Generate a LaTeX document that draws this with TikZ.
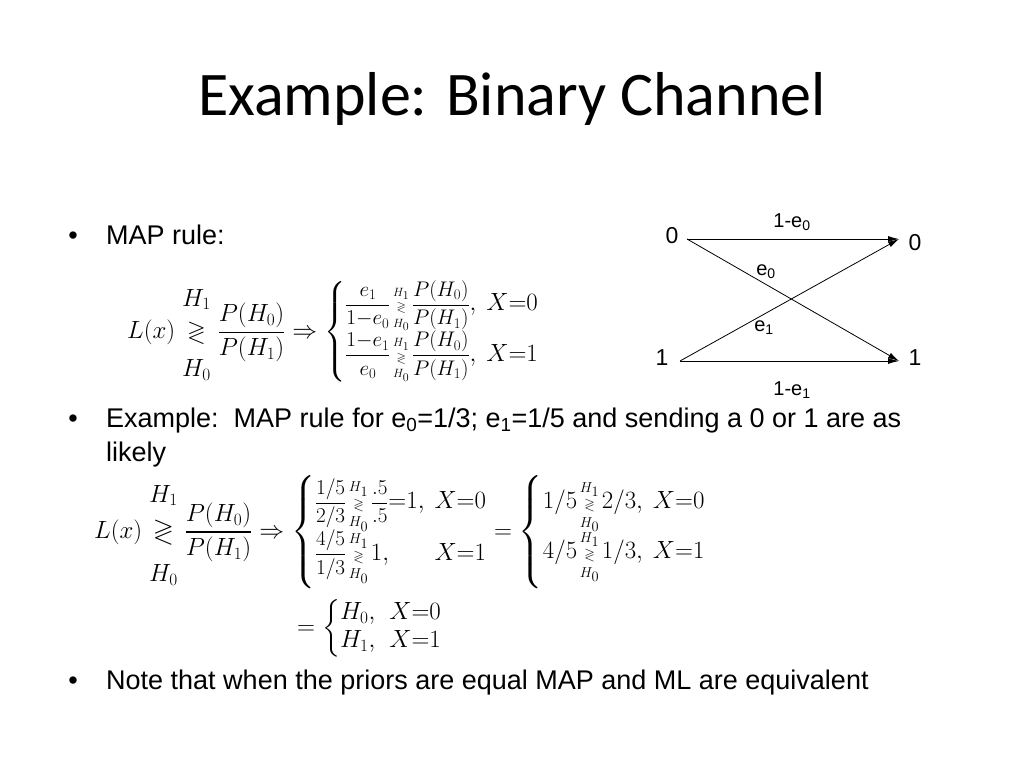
\documentclass[tikz,border=0pt]{standalone}
\usepackage{amsmath}
\usepackage{amssymb}
\usepackage{graphicx}
\usepackage{fontspec}
\setmainfont{Liberation Sans}
\newfontfamily\titlefont{Carlito}
\usetikzlibrary{arrows.meta}
\newcommand{\mapdecide}{\mathrel{\mathop{\gtrless}\limits^{\textstyle H_1\rule[-0.55em]{0pt}{0pt}}_{\textstyle\rule{0pt}{1.25em}H_0}}}
\newcommand{\mapsmall}{\mkern2mu{\mathop{\scriptscriptstyle\gtrless}\limits^{\scriptscriptstyle H_1}_{\scriptscriptstyle H_0}}\mkern2mu}
\newcommand{\casefrac}[2]{\scalebox{0.85}{$\displaystyle\frac{#1}{#2}$}}
\tikzset{
        title/.style={anchor=base, inner sep=0pt, font=\titlefont\fontsize{62}{66}\selectfont},
        bullettext/.style={anchor=base west, inner sep=0pt, font=\fontsize{27}{32}\selectfont},
        bulletdot/.style={anchor=base, inner sep=0pt, font=\fontsize{27}{32}\selectfont},
        formula/.style={anchor=west, inner sep=0pt, font=\fontsize{24}{28}\selectfont},
        state/.style={inner sep=0pt, font=\fontsize{23}{26}\selectfont},
        prob/.style={inner sep=0pt, font=\fontsize{20}{24}\selectfont},
        channel/.style={line width=0.8pt, -{Latex[length=11pt,width=6pt]}}
          }
\begin{document}
\begin{tikzpicture}[x=1pt, y=-1pt]
            \useasboundingbox (0,0) rectangle (1024,768);
            \node[title] (title) at (512,115) {Example: Binary Channel};
            % bullets
            \node[bulletdot] (dot1) at (73,244) {\textbullet};
            \node[bullettext] (map) at (106,244) {MAP rule:};
            \node[bulletdot] (dot2) at (73,427) {\textbullet};
            \node[bullettext] (ex) at (106,427) {Example:\ \ MAP rule for e\textsubscript{0}=1/3; e\textsubscript{1}=1/5 and sending a 0 or 1 are as};
            \node[bullettext] (ex2) at (106,461) {likely};
            \node[bulletdot] (dot3) at (73,689) {\textbullet};
            \node[bullettext] (note) at (106,689) {Note that when the priors are equal MAP and ML are equivalent};
            % formulas
            \node[formula] (rule) at (127,332) {$\displaystyle L(x)\mapdecide\frac{P(H_0)}{P(H_1)}\Rightarrow
              \left\{\begin{array}{@{}l@{\hspace{10pt}}l@{}}\casefrac{e_1}{1{-}e_0}\mapsmall\casefrac{P(H_0)}{P(H_1)}, & X{=}0\\[-2pt]
              \casefrac{1{-}e_1}{e_0}\mapsmall\casefrac{P(H_0)}{P(H_1)}, & X{=}1\end{array}\right.$};
            \node[formula, font=\fontsize{27}{31}\selectfont] (rule2) at (94,532) {$\displaystyle L(x)\mapdecide\frac{P(H_0)}{P(H_1)}\Rightarrow
              \left\{\begin{array}{@{}l@{\hspace{10pt}}l@{}}\casefrac{1/5}{2/3}\mapsmall\casefrac{.5}{.5}{=}1, & X{=}0\\[-4pt]
              \casefrac{4/5}{1/3}\mapsmall 1, & X{=}1\end{array}\right.
              =\left\{\begin{array}{@{}l@{\hspace{10pt}}l@{}}1/5\mapsmall 2/3, & X{=}0\\[-5pt] 4/5\mapsmall 1/3, & X{=}1\end{array}\right.$};
            \node[formula] (rule3) at (297,628) {$\displaystyle =\left\{\begin{array}{@{}l@{\hspace{14pt}}l@{}}H_0, & X{=}0\\ H_1, & X{=}1\end{array}\right.$};
            % binary channel
            \node[state] (in0) at (672,236) {0};
            \node[state] (in1) at (662,358) {1};
            \node[state] (out0) at (915,243) {0};
            \node[state] (out1) at (915,358) {1};
            \coordinate (a0) at (687,239);
            \coordinate (a1) at (680,361);
            \coordinate (b0) at (899,239);
            \coordinate (b1) at (899,361);
            \draw[channel] (a0) -- (b0);
            \draw[channel] (a0) -- (b1);
            \draw[channel] (a1) -- (b0);
            \draw[channel] (a1) -- (b1);
            \node[prob] (p00) at (792,222) {1-e\textsubscript{0}};
            \node[prob] (p01) at (766,272) {e\textsubscript{0}};
            \node[prob] (p10) at (764,328) {e\textsubscript{1}};
            \node[prob] (p11) at (792,390) {1-e\textsubscript{1}};
\end{tikzpicture}
\end{document}
